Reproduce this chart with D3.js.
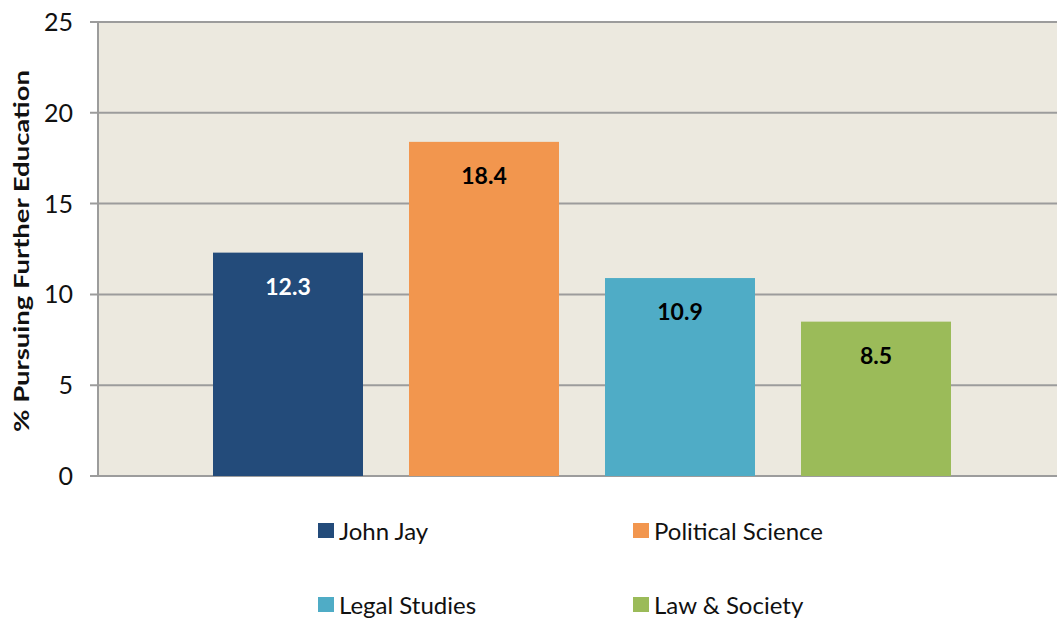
<!DOCTYPE html>
<html>
<head>
<meta charset="utf-8">
<script src="https://cdn.jsdelivr.net/npm/d3@7"></script>
<style>
html,body{margin:0;padding:0;background:#fff;}
svg{display:block;font-family:Lato,"Open Sans",sans-serif;}
</style>
</head>
<body>
<svg id="chart" width="1057" height="618"></svg>
<script>
const categories = ["John Jay", "Political Science", "Legal Studies", "Law & Society"];
const values = [12.3, 18.4, 10.9, 8.5];
const colors = ["#234B7A", "#F2964E", "#4FACC6", "#9BBB59"];
const labelColors = ["#ffffff", "#000000", "#000000", "#000000"];
const yTicks = [0, 5, 10, 15, 20, 25];
const yTitle = "% Pursuing Further Education";

const svg = d3.select("#chart");
const plot = {left: 97, right: 1060, top: 22, bottom: 476};

const y = d3.scaleLinear().domain([0, 25]).range([plot.bottom, plot.top]);
const x = d3.scaleBand().domain(categories).range([190, 974])
  .paddingInner(46/196).paddingOuter(23/196);

svg.append("rect").attr("x", plot.left).attr("y", plot.top)
  .attr("width", plot.right - plot.left).attr("height", plot.bottom - plot.top)
  .attr("fill", "#ECE9DF");

// gridlines
svg.append("g").selectAll("line").data(yTicks).join("line")
  .attr("x1", 90).attr("x2", plot.right)
  .attr("y1", d => y(d)).attr("y2", d => y(d))
  .attr("stroke", "#9c9c9c").attr("stroke-width", 2);

// left axis line
svg.append("line").attr("x1", 98).attr("x2", 98).attr("y1", plot.top).attr("y2", plot.bottom)
  .attr("stroke", "#9c9c9c").attr("stroke-width", 2);

// y tick labels
svg.append("g").selectAll("text").data(yTicks).join("text")
  .attr("x", 73).attr("y", d => y(d)).attr("dy", "0.36em")
  .attr("text-anchor", "end").attr("font-size", 25).attr("fill", "#111")
  .text(d => d);

// y title
svg.append("text").attr("transform", "translate(29," + 251 + ") rotate(-90)")
  .attr("text-anchor", "middle").attr("font-size", 20).attr("font-weight", "bold").attr("fill", "#111")
  .attr("textLength", 362).attr("lengthAdjust", "spacingAndGlyphs")
  .text(yTitle);

// bars
svg.append("g").selectAll("rect").data(values).join("rect")
  .attr("x", (d, i) => x(categories[i])).attr("width", x.bandwidth())
  .attr("y", d => y(d)).attr("height", d => plot.bottom - y(d))
  .attr("fill", (d, i) => colors[i]);

// value labels
svg.append("g").selectAll("text").data(values).join("text")
  .attr("x", (d, i) => x(categories[i]) + x.bandwidth() / 2)
  .attr("y", d => y(d) + 42)
  .attr("text-anchor", "middle").attr("font-size", 23).attr("font-weight", "bold")
  .attr("fill", (d, i) => labelColors[i])
  .text(d => d.toFixed(1));

// legend
const legPos = [[318, 531], [633, 531], [318, 605], [633, 605]];
const leg = svg.append("g").selectAll("g").data(categories).join("g")
  .attr("transform", (d, i) => "translate(" + legPos[i][0] + "," + legPos[i][1] + ")");
leg.append("rect").attr("x", 0).attr("y", -8).attr("width", 16).attr("height", 15)
  .attr("fill", (d, i) => colors[i]);
leg.append("text").attr("x", 21).attr("y", 0).attr("dy", "0.36em")
  .attr("font-size", 24).attr("fill", "#111").text(d => d);
</script>
</body>
</html>
